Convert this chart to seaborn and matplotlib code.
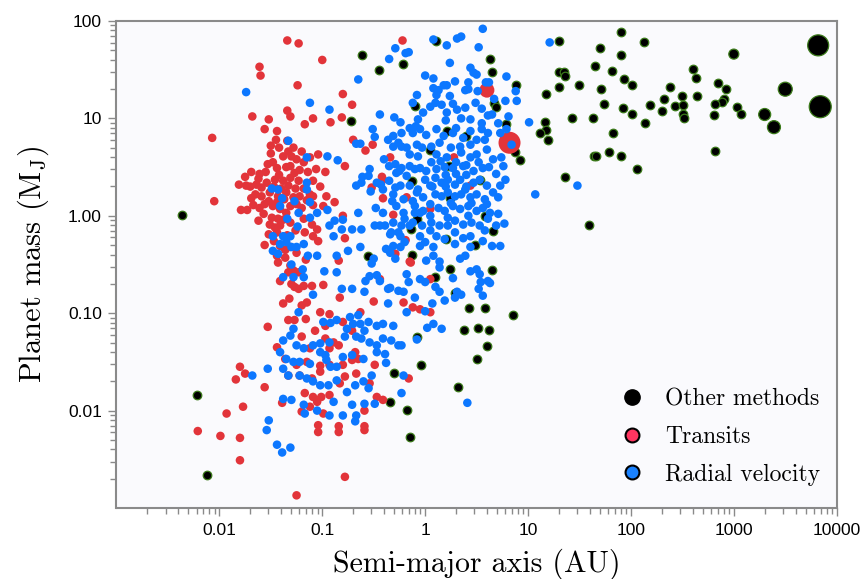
import numpy as np
import pandas as pd
import matplotlib
matplotlib.use("Agg")
import matplotlib.pyplot as plt
import seaborn as sns
from matplotlib.lines import Line2D
from matplotlib.ticker import FixedLocator, FixedFormatter, LogLocator, NullFormatter

# ---------------- data ----------------
# every point: (log10 semi-major axis [AU], log10 planet mass [M_J])
other_methods = [
    (1.90, 1.89), (1.30, 1.79), (2.13, 1.78), (1.70, 1.72), (1.90, 1.65), (1.65, 1.54),
    (1.82, 1.49), (1.30, 1.48), (1.35, 1.48), (1.36, 1.44), (2.60, 1.51), (2.63, 1.41),
    (1.93, 1.40), (2.85, 1.36), (1.50, 1.34), (2.01, 1.34), (1.30, 1.32), (2.38, 1.32),
    (2.92, 1.30), (1.71, 1.30), (1.17, 1.25), (2.50, 1.23), (2.64, 1.23), (2.32, 1.20),
    (2.90, 1.20), (2.89, 1.17), (1.74, 1.15), (2.19, 1.14), (2.43, 1.13), (2.51, 1.14),
    (2.82, 1.15), (3.03, 1.12), (3.07, 1.05), (1.92, 1.11), (2.30, 1.08), (2.01, 1.05),
    (2.51, 1.05), (2.52, 1.00), (2.81, 1.04), (1.43, 1.00), (1.63, 1.00), (2.14, 0.95),
    (1.16, 0.96), (1.17, 0.88), (1.12, 0.85), (1.19, 0.78), (1.83, 0.85), (2.82, 0.67),
    (1.64, 0.61), (1.66, 0.61), (1.79, 0.65), (1.90, 0.61), (2.06, 0.48), (1.36, 0.40),
    (0.92, 0.57), (1.59, -0.09), (0.63, 1.61), (0.65, 1.48), (0.88, 1.34), (0.67, 1.16),
    (0.69, 1.12), (0.79, 0.94), (-0.22, 1.56), (0.11, 1.79), (0.87, 0.65), (-0.61, 1.65),
    (-0.45, 1.50), (-0.72, 0.97), (-0.10, 1.13), (-2.36, 0.01), (-0.14, -0.14), (-0.56, -0.41),
    (-0.13, -0.40), (0.05, 0.68), (0.21, 0.87), (0.40, 0.82), (0.23, 0.51), (0.53, 0.37),
    (-0.13, 0.36), (0.24, 0.18), (0.58, 0.00), (-0.08, -0.03), (0.66, -0.16), (0.20, -0.24),
    (0.48, -0.30), (0.24, -0.55), (0.65, -0.56), (0.10, -0.63), (0.29, -0.79), (0.43, -0.95),
    (0.58, -0.95), (0.85, -1.02), (0.38, -1.17), (0.51, -1.15), (0.62, -1.17), (-0.08, -1.24),
    (0.60, -1.34), (0.50, -1.47), (-0.04, -1.53), (-0.30, -1.61), (-0.34, -1.91), (-0.18, -1.99),
    (-0.15, -2.27), (0.32, -1.76), (-2.22, -1.84), (-2.12, -2.66),
]
other_methods_large = [(3.82, 1.75), (3.84, 1.12), (3.50, 1.30), (3.30, 1.04), (3.39, 0.91), (3.00, 1.66)]

transits = [
    (-1.34, 1.80), (-1.23, 1.77), (-1.00, 1.60), (-1.61, 1.53), (-1.60, 1.44), (-1.24, 1.34),
    (-0.80, 1.25), (-0.71, 1.14), (-0.22, 1.80), (-1.34, 1.08), (-1.31, 1.02), (-1.68, 1.02),
    (-1.52, 0.99), (-1.09, 1.00), (-0.81, 1.01), (-1.17, 0.94), (-0.92, 0.96), (-1.56, 0.89),
    (-1.44, 0.87), (-2.07, 0.80), (-2.05, 0.15), (-0.70, 0.78), (-0.58, 0.67), (-0.51, 0.73),
    (-1.34, 0.77), (-1.28, 0.70), (-1.50, 0.64), (-1.04, 0.63), (-0.78, 0.51), (-0.41, 0.37),
    (-0.34, 0.60), (-0.41, 0.18), (-0.31, 0.01), (-0.19, -0.25), (-1.81, 0.32), (-1.74, 0.31),
    (-1.79, 0.06), (-1.73, 0.06), (-0.88, 0.14), (-0.80, 0.00), (-0.78, -0.23), (-1.05, -0.14),
    (-1.04, -0.26), (-1.53, 0.53), (-1.61, 0.43), (-1.69, 0.45), (-1.38, 0.61), (-1.30, 0.61),
    (-1.25, 0.58), (-1.44, 0.49), (-1.31, 0.51), (-1.22, 0.47), (-1.14, 0.45), (-1.06, 0.48),
    (-0.97, 0.45), (-1.64, 0.32), (-1.59, 0.29), (-1.54, 0.34), (-1.46, 0.37), (-1.38, 0.36),
    (-1.31, 0.39), (-1.23, 0.36), (-1.09, 0.36), (-1.02, 0.30), (-0.42, 0.40), (-1.69, 0.18),
    (-1.59, 0.20), (-1.51, 0.24), (-1.43, 0.20), (-1.35, 0.24), (-1.28, 0.19), (-1.22, 0.20),
    (-1.09, 0.20), (-0.96, 0.20), (-1.67, 0.11), (-1.61, 0.08), (-1.52, 0.15), (-1.48, 0.10),
    (-1.41, 0.07), (-1.31, 0.10), (-1.20, 0.08), (-1.09, 0.11), (-0.99, 0.10), (-1.57, 0.02),
    (-1.49, -0.02), (-1.43, -0.03), (-1.35, 0.03), (-1.51, -0.09), (-1.41, -0.10), (-1.31, -0.07),
    (-1.18, -0.03), (-1.10, -0.09), (-1.52, -0.19), (-1.44, -0.17), (-1.17, -0.17), (-1.09, -0.21),
    (-1.56, -0.30), (-1.41, -0.31), (-1.31, -0.32), (-1.25, -0.38), (-1.44, -0.41), (-1.36, -0.43),
    (-1.43, -0.48), (-1.31, -0.51), (-1.16, -0.45), (-1.33, -0.58), (-1.28, -0.56), (-1.23, -0.58),
    (-1.41, -0.67), (-1.27, -0.73), (-1.10, -0.72), (-0.99, -0.71), (-0.84, -0.46), (-0.52, 0.29),
    (0.28, 0.60), (0.44, 0.31), (0.05, 0.07), (-0.29, -0.39), (-0.15, -0.47), (0.05, -0.65),
    (-0.44, -0.65), (-1.30, -0.70), (-1.23, -0.75), (-1.18, -0.72), (-1.38, -0.90), (-1.32, -0.85),
    (-1.20, -0.92), (-1.15, -0.89), (-0.83, -0.84), (-0.50, -0.88), (-0.21, -0.89), (-0.12, -0.94),
    (-0.05, -0.96), (0.05, -0.99), (-1.53, -1.14), (-1.33, -1.07), (-1.27, -1.07), (-1.16, -1.06),
    (-1.02, -0.99), (-0.93, -1.01), (-1.07, -1.18), (-0.97, -1.13), (-0.80, -1.09), (-0.71, -1.18),
    (-0.63, -0.99), (-1.20, -1.24), (-0.97, -1.26), (-0.89, -1.30), (-1.12, -1.36), (-0.93, -1.36),
    (-0.84, -1.33), (-0.68, -1.40), (-0.65, -1.47), (-1.44, -1.35), (-1.36, -1.47), (-1.25, -1.53),
    (-1.15, -1.50), (-1.02, -1.54), (-0.93, -1.53), (-0.80, -1.53), (-0.71, -1.48), (-1.80, -1.55),
    (-1.75, -1.62), (-1.84, -1.68), (-1.56, -1.76), (-1.33, -1.64), (-1.22, -1.64), (-1.10, -1.67),
    (-1.02, -1.60), (-0.83, -1.72), (-0.78, -1.65), (-0.67, -1.62), (-0.49, -1.53), (-0.54, -1.72),
    (-0.16, -1.67), (-1.17, -1.82), (-1.09, -1.86), (-1.01, -1.86), (-0.93, -1.84), (-1.12, -1.96),
    (-1.05, -1.91), (-1.39, -1.92), (-1.20, -2.01), (-0.99, -2.03), (-0.59, -2.00), (-0.47, -1.86),
    (-0.41, -1.89), (-1.04, -2.15), (-1.04, -2.22), (-0.84, -2.16), (-0.84, -2.22), (-0.59, -2.16),
    (-0.59, -2.20), (-1.77, -1.96), (-1.80, -2.28), (-1.93, -2.03), (-2.21, -2.21), (-1.99, -2.26),
    (-1.80, -2.51), (-0.78, -2.68), (-1.25, -2.87), (-0.18, 0.19), (-0.14, -0.48),
    # dense hot-Jupiter core
    (-1.75, 0.40), (-1.70, 0.30), (-1.65, 0.22), (-1.62, 0.38), (-1.55, 0.45), (-1.48, 0.55),
    (-1.42, 0.42), (-1.35, 0.50), (-1.27, 0.44), (-1.18, 0.55), (-1.47, 0.30), (-1.40, 0.28),
    (-1.33, 0.31), (-1.26, 0.28), (-1.18, 0.28), (-1.12, 0.22), (-1.56, 0.12), (-1.44, 0.14),
    (-1.37, 0.17), (-1.25, 0.12), (-1.15, 0.16), (-1.62, -0.05), (-1.38, -0.04), (-1.46, -0.12),
    (-1.26, -0.15), (-1.34, -0.20), (-1.47, -0.26), (-1.36, -0.35), (-1.50, 0.72), (-1.42, 0.70),
    (-1.33, 0.66), (-1.20, 0.66), (-1.12, 0.60), (-1.45, 0.78),
]
transits_large = [(0.60, 1.29), (0.82, 0.75)]

radial_velocity = [
    (-1.74, 1.27), (-1.12, 1.16), (-0.93, 1.09), (-0.65, 1.40), (-0.44, 1.04), (-0.35, 1.61),
    (-0.29, 1.72), (-0.19, 1.67), (-0.16, 1.68), (-0.12, 1.16), (-0.08, 1.24), (0.08, 1.81),
    (0.21, 1.75), (0.31, 1.82), (0.35, 1.84), (0.56, 1.92), (0.52, 1.73), (0.24, 1.57),
    (0.00, 1.44), (0.08, 1.41), (0.44, 1.52), (0.47, 1.47), (0.50, 1.45), (0.79, 1.43),
    (0.29, 1.38), (0.08, 1.31), (0.13, 1.29), (0.18, 1.34), (0.21, 1.34), (0.42, 1.37),
    (0.39, 1.29), (0.42, 1.30), (0.51, 1.28), (0.59, 1.37), (0.62, 1.37), (0.88, 1.28),
    (0.05, 1.12), (0.10, 1.16), (0.27, 1.15), (0.39, 1.11), (0.49, 1.16), (0.78, 1.18),
    (0.89, 1.18), (-0.30, 1.01), (0.21, 1.06), (0.31, 1.09), (0.81, 1.02), (1.21, 1.78),
    (1.01, 0.96), (1.07, 0.22), (1.48, 0.31), (-0.24, 0.96), (-0.51, 0.89), (-0.49, 0.81),
    (-0.67, 0.74), (-0.63, 0.74), (-1.33, 0.77), (-1.15, 0.60), (-0.95, 0.61), (-0.85, 0.57),
    (-0.40, 0.58), (-0.31, 0.71), (-0.12, 0.85), (-0.09, 0.92), (-0.07, 0.99), (-0.36, 0.78),
    (-0.23, 0.71), (-0.18, 0.70), (-0.54, 0.48), (-0.55, 0.41), (-0.67, 0.31), (-0.53, 0.25),
    (-0.48, 0.08), (-0.35, 0.51), (-0.28, 0.44), (-0.23, 0.49), (-0.15, 0.51), (-0.10, 0.48),
    (-0.29, 0.29), (-0.24, 0.31), (-0.15, 0.31), (-0.07, 0.27), (-0.32, 0.15), (-0.28, 0.10),
    (-0.21, 0.17), (-0.20, -0.03), (-0.15, -0.10), (-0.10, 0.03), (-0.65, 0.03), (-0.95, 0.06),
    (-1.05, 0.03), (-1.15, 0.34), (-1.15, 0.27), (-1.12, 0.14), (-1.49, 0.28), (-1.43, 0.27),
    (-1.39, 0.18), (-1.27, 0.15), (-1.41, 0.10), (-1.34, -0.03), (-1.24, -0.11), (-1.12, -0.02),
    (-0.93, -0.10), (-0.88, -0.05), (-0.80, -0.04), (-0.81, -0.14), (-0.89, -0.21), (-0.71, -0.14),
    (-0.62, -0.14), (-0.49, -0.10), (-0.44, -0.10), (-0.38, -0.34), (-0.75, -0.36), (-1.48, -0.21),
    (-1.41, -0.29), (-1.35, -0.27), (-1.30, -0.32), (-1.25, -0.32), (-1.18, -0.29), (-1.14, -0.41),
    (-1.05, -0.41), (-0.86, -0.41), (-1.48, -0.36), (-0.31, -0.31), (-0.24, -0.32), (-0.26, -0.17),
    (-0.20, -0.27), (-0.61, 0.40), (-0.62, 0.34), (-0.43, 0.32), (-0.35, 0.36), (-1.23, 0.03),
    (-1.38, -0.21), (-1.31, -0.21), (-1.43, -0.39), (-1.30, -0.50), (-1.19, -0.55), (-0.98, -0.57),
    (-0.86, -0.58), (-1.38, -0.63), (-1.28, -0.63), (-1.18, -0.63), (-1.09, -0.81), (-0.63, -0.32),
    (-0.52, -0.49), (-0.54, -0.62), (-0.58, -0.67), (-0.44, -0.67), (-0.34, -0.74), (-0.81, -0.75),
    (-0.71, -0.75), (-0.34, -0.19),
    (0.11, 1.24), (0.24, 1.23), (-0.02, 1.06), (0.16, 1.14), (0.61, 1.03), (0.65, 1.04),
    (0.44, 0.99), (0.55, 0.95), (0.71, 0.95), (-0.31, 0.82), (-0.23, 0.85), (-0.26, 0.75),
    (-0.15, 0.90), (-0.05, 0.89), (0.01, 0.83), (0.11, 0.89), (0.18, 0.82), (0.27, 0.85),
    (0.37, 0.80), (0.44, 0.87), (0.55, 0.89), (0.61, 0.85), (0.73, 0.85), (0.79, 0.89),
    (0.58, 0.78), (0.84, 0.73), (-0.08, 0.73), (0.06, 0.71), (0.14, 0.75), (0.34, 0.71),
    (0.44, 0.73), (-0.29, 0.53), (-0.15, 0.63), (-0.07, 0.61), (-0.03, 0.70), (0.11, 0.63),
    (0.21, 0.60), (0.35, 0.65), (0.44, 0.60), (0.50, 0.63), (0.60, 0.68), (0.66, 0.58),
    (0.74, 0.60), (0.76, 0.51), (-0.25, 0.46), (-0.05, 0.49), (0.01, 0.46), (0.11, 0.48),
    (0.19, 0.50), (0.27, 0.49), (0.37, 0.51), (0.47, 0.46), (0.56, 0.49), (0.69, 0.43),
    (-0.47, 0.34), (-0.41, 0.27), (-0.18, 0.41), (0.00, 0.37), (0.05, 0.31), (0.10, 0.39),
    (0.16, 0.34), (0.22, 0.37), (0.29, 0.32), (0.34, 0.37), (0.39, 0.27), (0.47, 0.34),
    (0.53, 0.37), (0.60, 0.31), (0.66, 0.24), (0.73, 0.31), (0.78, 0.37), (-0.31, 0.22),
    (-0.08, 0.24), (-0.02, 0.19), (0.10, 0.22), (0.16, 0.20), (0.22, 0.24), (0.29, 0.20),
    (0.35, 0.22), (0.44, 0.19), (0.50, 0.22), (0.58, 0.17), (0.71, 0.19), (-0.41, 0.03),
    (-0.21, 0.03), (-0.10, 0.10), (-0.05, 0.03), (0.05, 0.12), (0.13, 0.08), (0.19, 0.05),
    (0.27, 0.10), (0.34, 0.07), (0.42, 0.10), (0.50, 0.05), (0.56, 0.08), (0.63, 0.03),
    (0.71, 0.02), (-0.39, -0.10), (-0.31, -0.07), (-0.23, -0.10), (-0.12, -0.07), (-0.03, -0.10),
    (0.06, -0.07), (0.14, -0.10), (0.29, -0.05), (0.37, -0.09), (0.45, -0.07), (0.53, -0.10),
    (0.61, -0.03), (0.69, -0.10), (0.77, -0.08), (-0.33, -0.17), (-0.24, -0.21), (-0.05, -0.21),
    (0.00, -0.27), (0.11, -0.21), (0.19, -0.24), (0.29, -0.17), (0.37, -0.23), (0.44, -0.21),
    (0.56, -0.26), (0.65, -0.31), (0.73, -0.31), (-0.05, -0.31), (0.08, -0.32), (0.29, -0.29),
    (0.44, -0.32), (-0.34, -0.38), (-0.29, -0.44), (0.08, -0.41), (0.14, -0.47), (0.34, -0.44),
    (0.39, -0.41), (0.50, -0.55), (0.53, -0.60), (0.61, -0.67), (0.44, -0.57), (0.01, -0.46),
    (-0.50, -0.44), (-0.18, -0.60), (-0.05, -0.65), (0.00, -0.68), (0.31, -0.78), (0.52, -0.75),
    (0.63, -0.69), (-0.21, -0.78), (-0.36, -0.75), (-0.47, -0.61), (0.10, -0.73), (0.14, -0.78),
    (0.29, -0.84), (0.56, -0.82),
    (0.14, -0.53), (-0.16, -0.68), (0.27, -0.64), (0.54, -0.68), (0.35, -0.81), (0.19, -0.87),
    (0.07, -0.90), (-0.10, -0.84), (-0.18, -0.99), (0.00, -0.98), (0.02, -1.15), (0.08, -1.11),
    (0.16, -1.16), (-0.08, -1.27), (-0.23, -1.33), (-0.21, -1.64), (-0.23, -1.82), (0.41, -1.92),
    (-1.23, -0.99), (-0.59, -0.78), (-0.26, -0.77), (-0.36, -0.90), (-1.28, -1.16), (-1.31, -1.23),
    (-0.99, -1.09), (-0.92, -1.10), (-0.86, -1.07), (-0.73, -1.04), (-0.65, -1.02), (-0.70, -1.11),
    (-0.63, -1.11), (-0.59, -1.18), (-0.55, -1.09), (-0.76, -1.16), (-0.47, -1.13), (-0.41, -1.11),
    (-0.31, -1.13), (-1.38, -1.28), (-1.41, -1.40), (-1.25, -1.33), (-1.18, -1.36), (-1.09, -1.33),
    (-1.02, -1.31), (-0.93, -1.30), (-0.78, -1.24), (-0.67, -1.24), (-0.62, -1.26), (-0.54, -1.30),
    (-0.47, -1.33), (-0.41, -1.26), (-0.33, -1.28), (-0.47, -1.40), (-0.39, -1.42), (-0.26, -1.33),
    (-1.35, -1.47), (-1.28, -1.50), (-1.22, -1.50), (-1.12, -1.52), (-1.02, -1.40), (-0.97, -1.43),
    (-0.96, -1.48), (-0.92, -1.55), (-0.86, -1.55), (-0.80, -1.45), (-0.71, -1.43), (-0.60, -1.47),
    (-1.53, -1.57), (-1.68, -1.64), (-1.38, -1.57), (-1.33, -1.64), (-1.22, -1.64), (-1.15, -1.67),
    (-1.09, -1.70), (-1.02, -1.74), (-0.94, -1.74), (-0.86, -1.69), (-0.76, -1.81), (-0.68, -1.74),
    (-0.60, -1.70), (-0.52, -1.64), (-0.55, -1.77), (-0.49, -1.93), (-1.38, -1.88), (-1.30, -1.89),
    (-1.17, -2.03), (-0.93, -2.05), (-0.80, -2.05), (-0.71, -1.94), (-0.67, -2.05), (-0.68, -2.11),
    (-0.59, -1.93), (-1.52, -2.10), (-1.54, -2.20), (-1.44, -2.35), (-1.39, -2.43), (-1.31, -2.38),
    (-1.05, -2.00), (-0.38, -1.51), (-0.89, -1.91), (-1.18, -1.94),
    # dense giant-planet core
    (0.20, 0.42), (0.30, 0.43), (0.40, 0.42), (0.06, 0.55), (0.15, 0.56), (0.30, 0.55),
    (0.40, 0.52), (0.52, 0.55), (0.62, 0.50), (0.25, 0.70), (0.50, 0.78), (0.30, 0.90),
    (0.20, 0.98), (0.35, 1.00), (0.55, 1.10), (0.67, 1.20), (0.07, 0.30), (0.40, 0.30),
    (0.20, 0.30), (0.25, 0.13), (0.45, 0.13), (0.60, 0.12), (0.05, 0.00), (0.22, -0.02),
    (0.42, 0.00), (0.58, -0.15), (0.22, -0.10), (0.05, -0.15), (-0.12, 0.15), (-0.02, 0.05),
]

x_ticks = [0.01, 0.1, 1, 10, 100, 1000, 10000]
x_tick_labels = ["0.01", "0.1", "1", "10", "100", "1000", "10000"]
y_ticks = [0.01, 0.1, 1, 10, 100]
y_tick_labels = ["0.01", "0.10", "1.00", "10", "100"]
legend_labels = ["Other methods", "Transits", "Radial velocity"]
x_label = "Semi-major axis (AU)"
y_label = r"Planet mass (M$_{\rm J}$)"

# ---------------- style ----------------
W, H = 865, 579
DOT = 38                      # marker area (pt^2) for ordinary points
other_large_px = [21, 22, 14, 12, 13, 10]   # marker diameters in pixels
transits_large_px = [15, 22]
c_other, c_other_edge = "#000000", "#3b7a1a"
c_transit, c_rv = "#e2343a", "#0c77ff"


def frame(points):
    arr = np.asarray(points, dtype=float)
    return pd.DataFrame({"a": 10 ** arr[:, 0], "m": 10 ** arr[:, 1]})


def px_to_area(d):
    return (np.asarray(d, dtype=float) * 72 / 100) ** 2


plt.rcParams["mathtext.fontset"] = "cm"
fig = plt.figure(figsize=(W / 100, H / 100), dpi=100)
ax = fig.add_axes([116.5 / W, 1 - 508 / H, 720.2 / W, 487 / H])
ax.set_facecolor("#fafafd")
ax.set_xscale("log")
ax.set_yscale("log")

common = dict(ax=ax, legend=False)
sns.scatterplot(data=frame(other_methods), x="a", y="m", color=c_other, s=DOT,
                edgecolor=c_other_edge, linewidth=0.9, **common)
sns.scatterplot(data=frame(other_methods_large), x="a", y="m", color=c_other,
                s=px_to_area(other_large_px), edgecolor=c_other_edge, linewidth=0.9, **common)
sns.scatterplot(data=frame(transits), x="a", y="m", color=c_transit, s=DOT,
                edgecolor="none", linewidth=0, **common)
sns.scatterplot(data=frame(transits_large), x="a", y="m", color=c_transit,
                s=px_to_area(transits_large_px), edgecolor="none", linewidth=0, **common)
sns.scatterplot(data=frame(radial_velocity), x="a", y="m", color=c_rv, s=DOT,
                edgecolor="none", linewidth=0, **common)

ax.set_xlim(1e-3, 1e4)
ax.set_ylim(1e-3, 100)

ax.xaxis.set_major_locator(FixedLocator(x_ticks))
ax.xaxis.set_major_formatter(FixedFormatter(x_tick_labels))
ax.yaxis.set_major_locator(FixedLocator(y_ticks))
ax.yaxis.set_major_formatter(FixedFormatter(y_tick_labels))
for axis in (ax.xaxis, ax.yaxis):
    axis.set_minor_locator(LogLocator(base=10, subs=np.arange(2, 10) * 1.0, numticks=20))
    axis.set_minor_formatter(NullFormatter())

ax.tick_params(which="both", direction="out", color="#8a8a8a", width=1.0)
ax.tick_params(which="major", length=5.5, labelsize=12.5, pad=5)
ax.tick_params(which="minor", length=4)
for lab in ax.get_xticklabels() + ax.get_yticklabels():
    lab.set_fontfamily("Liberation Sans")

for sp in ax.spines.values():
    sp.set_color("#8a8a8a")
    sp.set_linewidth(1.5)

ax.set_xlabel(x_label, fontfamily="cmr10", fontsize=21.5, labelpad=8)
ax.set_ylabel(y_label, fontfamily="cmr10", fontsize=22, labelpad=12)

handles = [
    Line2D([], [], ls="none", marker="o", markersize=11, markerfacecolor="black",
           markeredgecolor="black"),
    Line2D([], [], ls="none", marker="o", markersize=10, markerfacecolor="#ff3560",
           markeredgecolor="black", markeredgewidth=1.5),
    Line2D([], [], ls="none", marker="o", markersize=10, markerfacecolor="#1a82ff",
           markeredgecolor="black", markeredgewidth=1.5),
]
ax.legend(handles, legend_labels, loc="lower right", bbox_to_anchor=(1.008, 0.0),
          frameon=False, prop={"family": "cmr10", "size": 17}, handlelength=1.0,
          handletextpad=0.9, labelspacing=0.66, borderaxespad=0.55)

fig.savefig("out.png", dpi=100, facecolor="white")
